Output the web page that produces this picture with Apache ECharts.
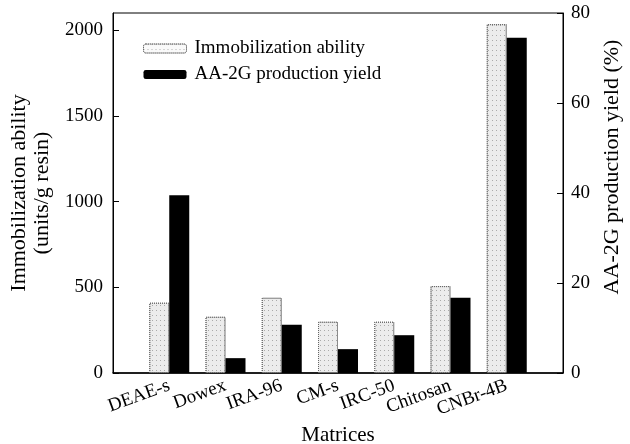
<!DOCTYPE html>
<html>
<head>
<meta charset="utf-8">
<script src="https://cdn.jsdelivr.net/npm/echarts@6/dist/echarts.min.js"></script>
<style>html,body{margin:0;padding:0;background:#fff}#c{width:630px;height:444px}</style>
</head>
<body>
<div id="c"></div>
<script>
const categories = ['DEAE-s', 'Dowex', 'IRA-96', 'CM-s', 'IRC-50', 'Chitosan', 'CNBr-4B'];
const immobilization = [410, 328, 439, 299, 299, 507, 2035];
const yieldPct = [39.5, 3.3, 10.7, 5.3, 8.4, 16.7, 74.5];
const leftTicks = [0, 500, 1000, 1500, 2000];
const rightTicks = [0, 20, 40, 60, 80];

const font = 'Liberation Serif';
const axisCats = [''].concat(categories, ['']);
const pad = a => [null].concat(a, [null]);

const chart = echarts.init(document.getElementById('c'));
chart.setOption({
  animation: false,
  textStyle: { fontFamily: font, color: '#000' },
  grid: { left: 113, right: 67, top: 13, bottom: 71, show: true, borderColor: '#000', borderWidth: 1,
    backgroundColor: 'transparent', containLabel: false, outerBoundsMode: 'none' },
  legend: {
    left: 138, top: 34, orient: 'vertical', itemGap: 7, itemWidth: 43, itemHeight: 9,
    textStyle: { fontFamily: font, fontSize: 19, color: '#000', padding: [0, 0, 0, 3] },
    data: [
      { name: 'Immobilization ability', itemStyle: { color: '#fafafa', borderColor: '#666', borderWidth: 1, borderType: 'dotted' } },
      { name: 'AA-2G production yield', itemStyle: { color: '#000' } }
    ]
  },
  xAxis: {
    type: 'category', data: axisCats, boundaryGap: false,
    axisLine: { lineStyle: { color: '#000', width: 1.5 } },
    axisTick: { show: false },
    axisLabel: { rotate: 20, fontFamily: font, fontSize: 19, color: '#000', margin: 12, interval: 0 },
    name: 'Matrices', nameLocation: 'middle', nameGap: 46,
    nameTextStyle: { fontFamily: font, fontSize: 21, color: '#000' }
  },
  yAxis: [
    {
      type: 'value', min: 0, max: 2100, interval: 500, splitLine: { show: false },
      axisLine: { show: true, lineStyle: { color: '#000', width: 1 } },
      axisTick: { show: true, inside: true, length: 6, lineStyle: { color: '#000' } },
      axisLabel: { fontFamily: font, fontSize: 19, color: '#000', margin: 10, showMaxLabel: false,
        formatter: v => leftTicks.indexOf(v) >= 0 ? String(v) : '' },
      name: 'Immobilization ability\n(units/g resin)', nameLocation: 'middle', nameGap: 58, nameRotate: 90,
      nameTextStyle: { fontFamily: font, fontSize: 22, color: '#000', lineHeight: 23 }
    },
    {
      type: 'value', min: 0, max: 80, interval: 20, splitLine: { show: false },
      axisLine: { show: true, lineStyle: { color: '#000', width: 1 } },
      axisTick: { show: true, inside: true, length: 6, lineStyle: { color: '#000' } },
      axisLabel: { fontFamily: font, fontSize: 19, color: '#000', margin: 8,
        formatter: v => rightTicks.indexOf(v) >= 0 ? String(v) : '' },
      name: 'AA-2G production yield (%)', nameLocation: 'middle', nameGap: 32, nameRotate: 90,
      nameTextStyle: { fontFamily: font, fontSize: 22, color: '#000', padding: [0, 0, 0, 52] }
    }
  ],
  series: [
    {
      name: 'Immobilization ability', type: 'bar', yAxisIndex: 0, data: pad(immobilization),
      barWidth: 20, barGap: '0%',
      itemStyle: {
        color: '#ececec', borderColor: '#666', borderWidth: 1, borderType: 'dotted',
        decal: { symbol: 'rect', symbolSize: 1, color: 'rgba(90,90,90,0.45)', dashArrayX: [1, 3], dashArrayY: [1, 4], rotation: 0 }
      }
    },
    {
      name: 'AA-2G production yield', type: 'bar', yAxisIndex: 1, data: pad(yieldPct),
      barWidth: 20, barGap: '0%',
      itemStyle: { color: '#000' }
    }
  ]
});
</script>
</body>
</html>
